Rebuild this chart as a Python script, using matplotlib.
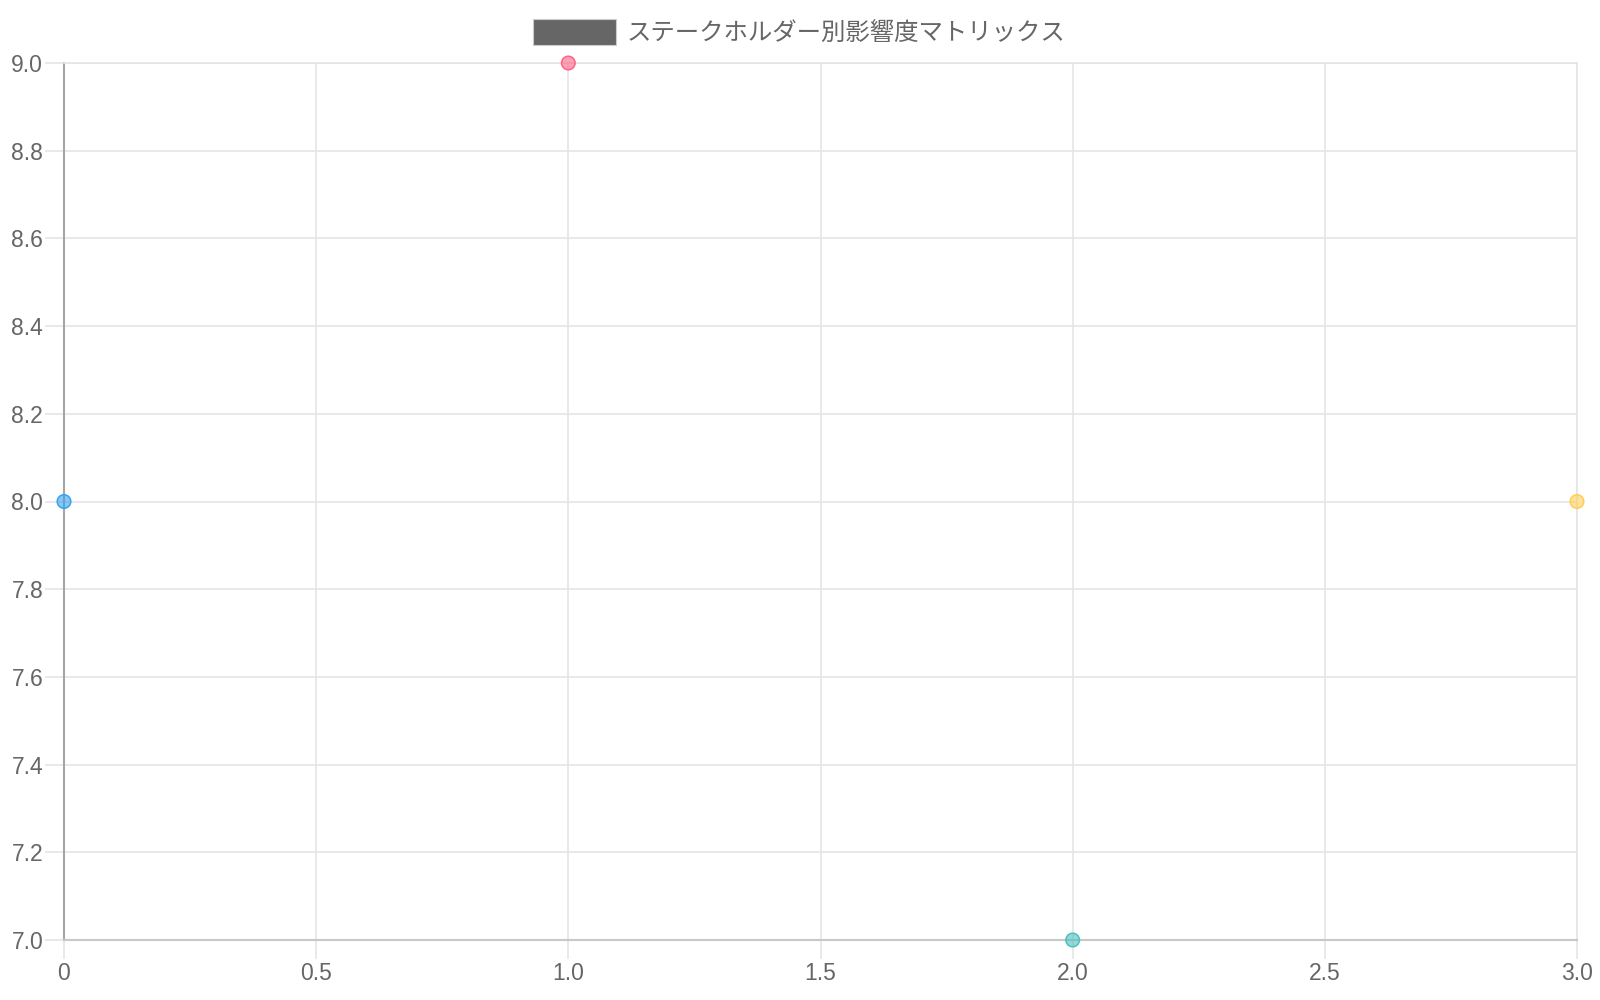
import matplotlib.pyplot as plt
from matplotlib.patches import Rectangle

# データ
title = 'ステークホルダー別影響度マトリックス'
x_vals = [0, 1, 2, 3]
y_vals = [8, 9, 7, 8]
face_colors = ['#36a2eb99', '#ff638499', '#4bc0c099', '#ffce5699']
edge_colors = ['#36a2eb', '#ff6384', '#4bc0c0', '#ffce56']
x_ticks = [0, 0.5, 1.0, 1.5, 2.0, 2.5, 3.0]
x_tick_labels = ['0', '0.5', '1.0', '1.5', '2.0', '2.5', '3.0']
y_ticks = [7.0, 7.2, 7.4, 7.6, 7.8, 8.0, 8.2, 8.4, 8.6, 8.8, 9.0]

plt.rcParams['font.family'] = ['Liberation Sans', 'DejaVu Sans']

fig = plt.figure(figsize=(16, 10), dpi=100)
ax = fig.add_axes([64 / 1600, 60 / 1000, (1577 - 64) / 1600, (940 - 63) / 1000])

grid_c = '#e5e5e5'
ax.set_xlim(0, 3)
ax.set_ylim(7, 9)
ax.set_xticks(x_ticks)
ax.set_xticklabels(x_tick_labels)
ax.set_yticks(y_ticks)
ax.set_yticklabels([f'{v:.1f}' for v in y_ticks])
ax.grid(True, color=grid_c, linewidth=1.2)
ax.set_axisbelow(True)

for side in ['top', 'right']:
    ax.spines[side].set_color(grid_c)
    ax.spines[side].set_linewidth(1.2)
ax.spines['left'].set_color('#a6a6a6')
ax.spines['left'].set_linewidth(1.5)
ax.spines['bottom'].set_color('#c8c8c8')
ax.spines['bottom'].set_linewidth(1.5)

ax.tick_params(axis='both', colors=grid_c, length=14, width=1.2,
               labelcolor='#666666', labelsize=16.5)
ax.tick_params(axis='x', pad=2)
ax.tick_params(axis='y', pad=1)
ax.xaxis.get_major_ticks()[0].tick1line.set_color('#a6a6a6')
ax.yaxis.get_major_ticks()[0].tick1line.set_color('#c8c8c8')

ax.scatter(x_vals, y_vals, s=95, c=face_colors, edgecolors=edge_colors,
           linewidths=1.1, zorder=3, clip_on=False)

# 凡例
fig.patches.append(Rectangle((533 / 1600, 1 - 45 / 1000), 83 / 1600, 26 / 1000,
                             transform=fig.transFigure, facecolor='#666666',
                             edgecolor='#cccccc', linewidth=0.8))
fig.text(627 / 1600, 1 - 34 / 1000, title, fontsize=17.6, color='#666666',
         ha='left', va='center', family=['Noto Sans CJK JP', 'DejaVu Sans'])

fig.savefig('out.png', dpi=100, facecolor='white')
